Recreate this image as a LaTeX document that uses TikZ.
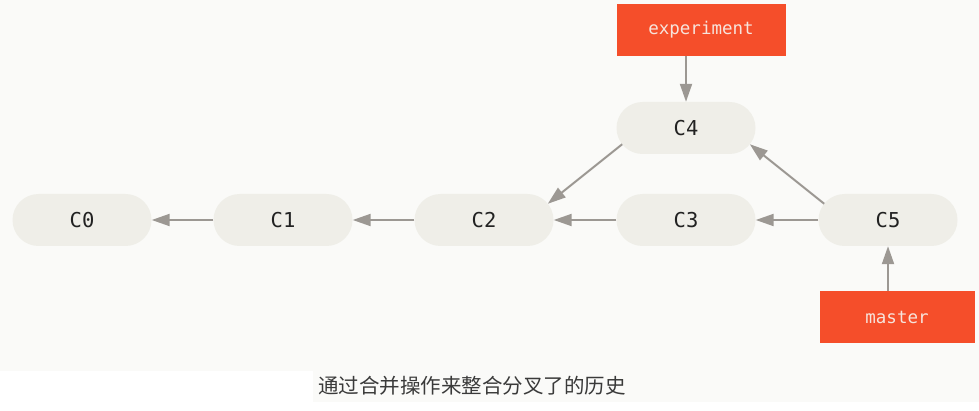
\documentclass[tikz,border=0pt]{standalone}
\usepackage{fontspec}
\setmonofont{DejaVu Sans Mono}
\newfontfamily\cjk{Noto Sans CJK SC}
\usetikzlibrary{arrows.meta,calc}

\definecolor{canvas}{HTML}{FAFAF8}
\definecolor{pillfill}{HTML}{EFEEE8}
\definecolor{branchred}{HTML}{F54E2A}
\definecolor{branchtext}{HTML}{F7E4DC}
\definecolor{linkgray}{HTML}{9C9893}
\definecolor{labelink}{HTML}{222222}
\definecolor{captionink}{HTML}{3A3A3A}

\tikzset{
  commit/.style={rectangle, rounded corners=26pt, fill=pillfill,
    minimum width=139pt, minimum height=52pt, inner sep=0pt,
    text=labelink, font=\fontsize{20.5}{20.5}\selectfont\ttfamily},
  branch/.style={rectangle, fill=branchred, minimum height=52pt,
    inner sep=0pt, text=branchtext,
    font=\fontsize{17.5}{17.5}\selectfont\ttfamily},
  link/.style={draw=linkgray, line width=2pt,
    -{Triangle[length=18pt,width=12pt]}},
  caption/.style={text=captionink, font=\fontsize{20.5}{20.5}\selectfont\cjk}
}

\begin{document}
\begin{tikzpicture}[x=1pt,y=-1pt]
  % canvas and caption band
  \useasboundingbox (0,0) rectangle (979,411);
  \fill[white] (0,0) rectangle (979,411);
  \fill[canvas] (0,0) rectangle (979,371);
  \fill[canvas] (313,371) rectangle (979,402);

  % commits
  \node[commit] (C0) at (82,220) {C0};
  \node[commit] (C1) at (283,220) {C1};
  \node[commit] (C2) at (484,220) {C2};
  \node[commit] (C3) at (686,220) {C3};
  \node[commit] (C4) at (686,128) {C4};
  \node[commit] (C5) at (888,220) {C5};

  % branch pointers
  \node[branch, minimum width=169pt] (exp) at (701,30) {experiment};
  \node[branch, minimum width=155pt] (master) at (897,317) {master};

  % parent links
  \draw[link] (C1.west) -- (C0.east);
  \draw[link] (C2.west) -- (C1.east);
  \draw[link] (C3.west) -- (C2.east);
  \draw[link] (C5.west) -- (C3.east);
  \draw[link, shorten <=26pt, shorten >=26pt]
    ($(C4.center)+(-43.5,0)$) -- ($(C2.center)+(43.5,0)$);
  \draw[link, shorten <=26pt, shorten >=26pt]
    ($(C5.center)+(-43.5,0)$) -- ($(C4.center)+(43.5,0)$);

  % branch links
  \draw[link] (C4 |- exp.south) -- (C4.north);
  \draw[link] (C5 |- master.north) -- (C5.south);

  % caption
  \node[caption] (cap) at (472,386) {通过合并操作来整合分叉了的历史};
\end{tikzpicture}
\end{document}
